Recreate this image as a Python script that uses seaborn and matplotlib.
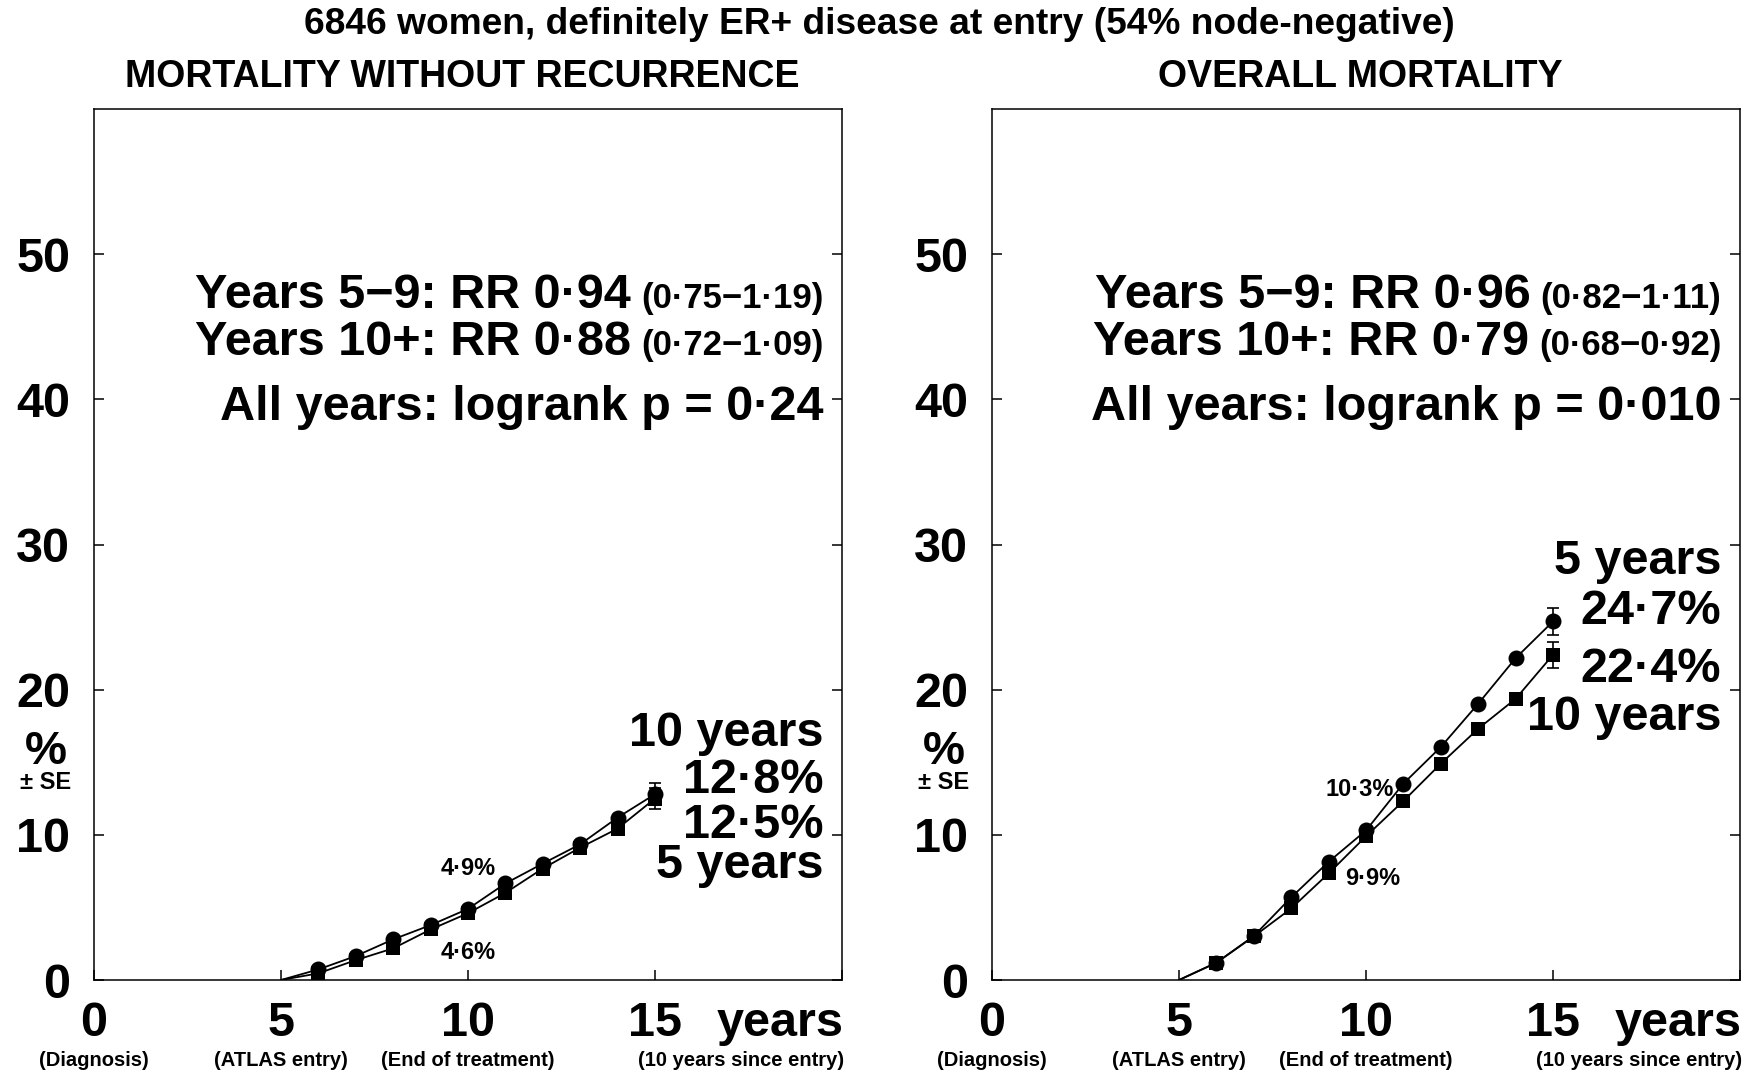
import matplotlib
matplotlib.use("Agg")
import matplotlib.pyplot as plt
import seaborn as sns
import pandas as pd

# ---------------- data ----------------
years = [5, 6, 7, 8, 9, 10, 11, 12, 13, 14, 15]
left_circle = [0, 0.73, 1.65, 2.8, 3.78, 4.9, 6.65, 8.02, 9.35, 11.19, 12.8]
left_square = [0, 0.46, 1.37, 2.18, 3.48, 4.6, 6.0, 7.68, 9.12, 10.43, 12.5]
right_circle = [0, 1.19, 3.03, 5.69, 8.14, 10.3, 13.53, 16.05, 19.03, 22.17, 24.7]
right_square = [0, 1.19, 3.0, 4.93, 7.34, 9.9, 12.33, 14.9, 17.31, 19.37, 22.4]
left_se = [0.75, 0.7]     # circle, square at 15 years
right_se = [0.95, 0.9]

xtick_vals = [0, 5, 10, 15, 20]
xtick_labels = ["0", "5", "10", "15", ""]
xsub_labels = ["(Diagnosis)", "(ATLAS entry)", "(End of treatment)", "(10 years since entry)"]
xsub_pos = [0, 5, 10, 17.3]
ytick_vals = [0, 10, 20, 30, 40, 50]

title = "6846 women, definitely ER+ disease at entry (54% node-negative)"
panel_titles = ["MORTALITY WITHOUT RECURRENCE", "OVERALL MORTALITY"]
rr_main = [["Years 5\u22129: RR 0\u00b794", "Years 10+: RR 0\u00b788"],
           ["Years 5\u22129: RR 0\u00b796", "Years 10+: RR 0\u00b779"]]
rr_ci = [["(0\u00b775\u22121\u00b719)", "(0\u00b772\u22121\u00b709)"],
         ["(0\u00b782\u22121\u00b711)", "(0\u00b768\u22120\u00b792)"]]
logrank = ["All years: logrank p = 0\u00b724", "All years: logrank p = 0\u00b7010"]
end_labels = [["10 years", "12\u00b78%", "12\u00b75%", "5 years"],
              ["5 years", "24\u00b77%", "22\u00b74%", "10 years"]]
end_label_y = [[16.1, 12.9, 9.8, 7.0], [28.0, 24.55, 20.5, 17.2]]
mid_labels = [[("4\u00b79%", 10, 7.7), ("4\u00b76%", 10, 1.86)],
              [("10\u00b73%", 9.83, 13.1), ("9\u00b79%", 10.17, 7.0)]]

# ---------------- style ----------------
sns.set_style("ticks")
plt.rcParams["font.family"] = ["Liberation Sans", "DejaVu Sans"]
plt.rcParams["font.weight"] = "bold"
for k in ["text.color", "axes.labelcolor", "xtick.color", "ytick.color", "axes.edgecolor"]:
    plt.rcParams[k] = "black"

fig = plt.figure(figsize=(17.58, 10.74), dpi=100)
axes = [fig.add_axes([94 / 1758, 94 / 1074, 748 / 1758, 871 / 1074]),
        fig.add_axes([992 / 1758, 94 / 1074, 748 / 1758, 871 / 1074])]

fig.text(0.5, 1 - 25 / 1074, title, ha="center", va="center", fontsize=26.7,
         fontweight="bold", color="black")

panels = [(left_circle, left_square, left_se), (right_circle, right_square, right_se)]

for i, ax in enumerate(axes):
    circ, sq, se = panels[i]
    df = pd.DataFrame({"year": years, "circle": circ, "square": sq})
    for col, mk, ms in [("circle", "o", 11.5), ("square", "s", 10)]:
        sns.lineplot(data=df, x="year", y=col, ax=ax, color="black", lw=1.3, zorder=2)
        sns.scatterplot(data=df.iloc[1:], x="year", y=col, ax=ax, color="black",
                        marker=mk, s=ms ** 2, edgecolor="black", linewidth=0, zorder=3)
    ax.errorbar([years[-1]], [circ[-1]], yerr=[se[0]], fmt="none", ecolor="black",
                elinewidth=1.2, capsize=4, capthick=1.2, zorder=4)
    ax.errorbar([years[-1]], [sq[-1]], yerr=[se[1]], fmt="none", ecolor="black",
                elinewidth=1.2, capsize=4, capthick=1.2, zorder=4)

    ax.set_xlim(0, 20)
    ax.set_ylim(0, 60)
    ax.set_xlabel("")
    ax.set_ylabel("")
    ax.set_xticks(xtick_vals)
    ax.set_xticklabels(xtick_labels)
    ax.set_yticks(ytick_vals)
    ax.set_yticklabels([str(v) for v in ytick_vals])
    ax.tick_params(axis="both", direction="in", length=7, width=1.1, labelsize=35,
                   colors="black")
    ax.tick_params(axis="y", right=True, pad=17)
    ax.tick_params(axis="x", pad=15)
    for lab in ax.get_xticklabels() + ax.get_yticklabels():
        lab.set_fontweight("bold")
    for sp in ax.spines.values():
        sp.set_visible(True)
        sp.set_linewidth(1.1)
        sp.set_color("black")

    # panel title
    ax.text(0.4925, 1 + 32 / 871, panel_titles[i], transform=ax.transAxes, ha="center",
            va="center", fontsize=27, fontweight="bold")

    # "years" after 15 tick label
    ax.annotate("years", xy=(16.65, 0), xycoords=("data", "axes fraction"),
                xytext=(0, -15), textcoords="offset points", ha="left", va="top",
                fontsize=35, fontweight="bold")
    for lab, xp in zip(xsub_labels, xsub_pos):
        ax.annotate(lab, xy=(xp, 0), xycoords=("data", "axes fraction"),
                    xytext=(0, -58), textcoords="offset points", ha="center",
                    va="center", fontsize=14.5, fontweight="bold")

    # % +- SE label
    ax.annotate("%", xy=(0, 15.7), xycoords=("axes fraction", "data"),
                xytext=(-35, 0), textcoords="offset points", ha="center", va="center",
                fontsize=34, fontweight="bold")
    ax.annotate("\u00b1 SE", xy=(0, 13.6), xycoords=("axes fraction", "data"),
                xytext=(-35, 0), textcoords="offset points", ha="center", va="center",
                fontsize=17, fontweight="bold")

    # RR annotations
    xr = 19.5
    for txt_main, txt_ci, yb in zip(rr_main[i], rr_ci[i], [46.3, 43.05]):
        ci = ax.text(xr, yb, txt_ci, ha="right", va="baseline", fontsize=25,
                     fontweight="bold")
        ax.annotate(txt_main, xy=(0, yb), xycoords=(ci, "data"), xytext=(-7, 0),
                    textcoords="offset points", ha="right", va="baseline",
                    fontsize=35, fontweight="bold")
    ax.text(xr, 38.6, logrank[i], ha="right", va="baseline", fontsize=35,
            fontweight="bold")

    # end labels
    for txt, yb in zip(end_labels[i], end_label_y[i]):
        ax.text(xr, yb, txt, ha="right", va="baseline", fontsize=35, fontweight="bold")

    for txt, xp, yp in mid_labels[i]:
        ax.text(xp, yp, txt, ha="center", va="center", fontsize=17, fontweight="bold")

fig.savefig("out.png", dpi=100, facecolor="white")
